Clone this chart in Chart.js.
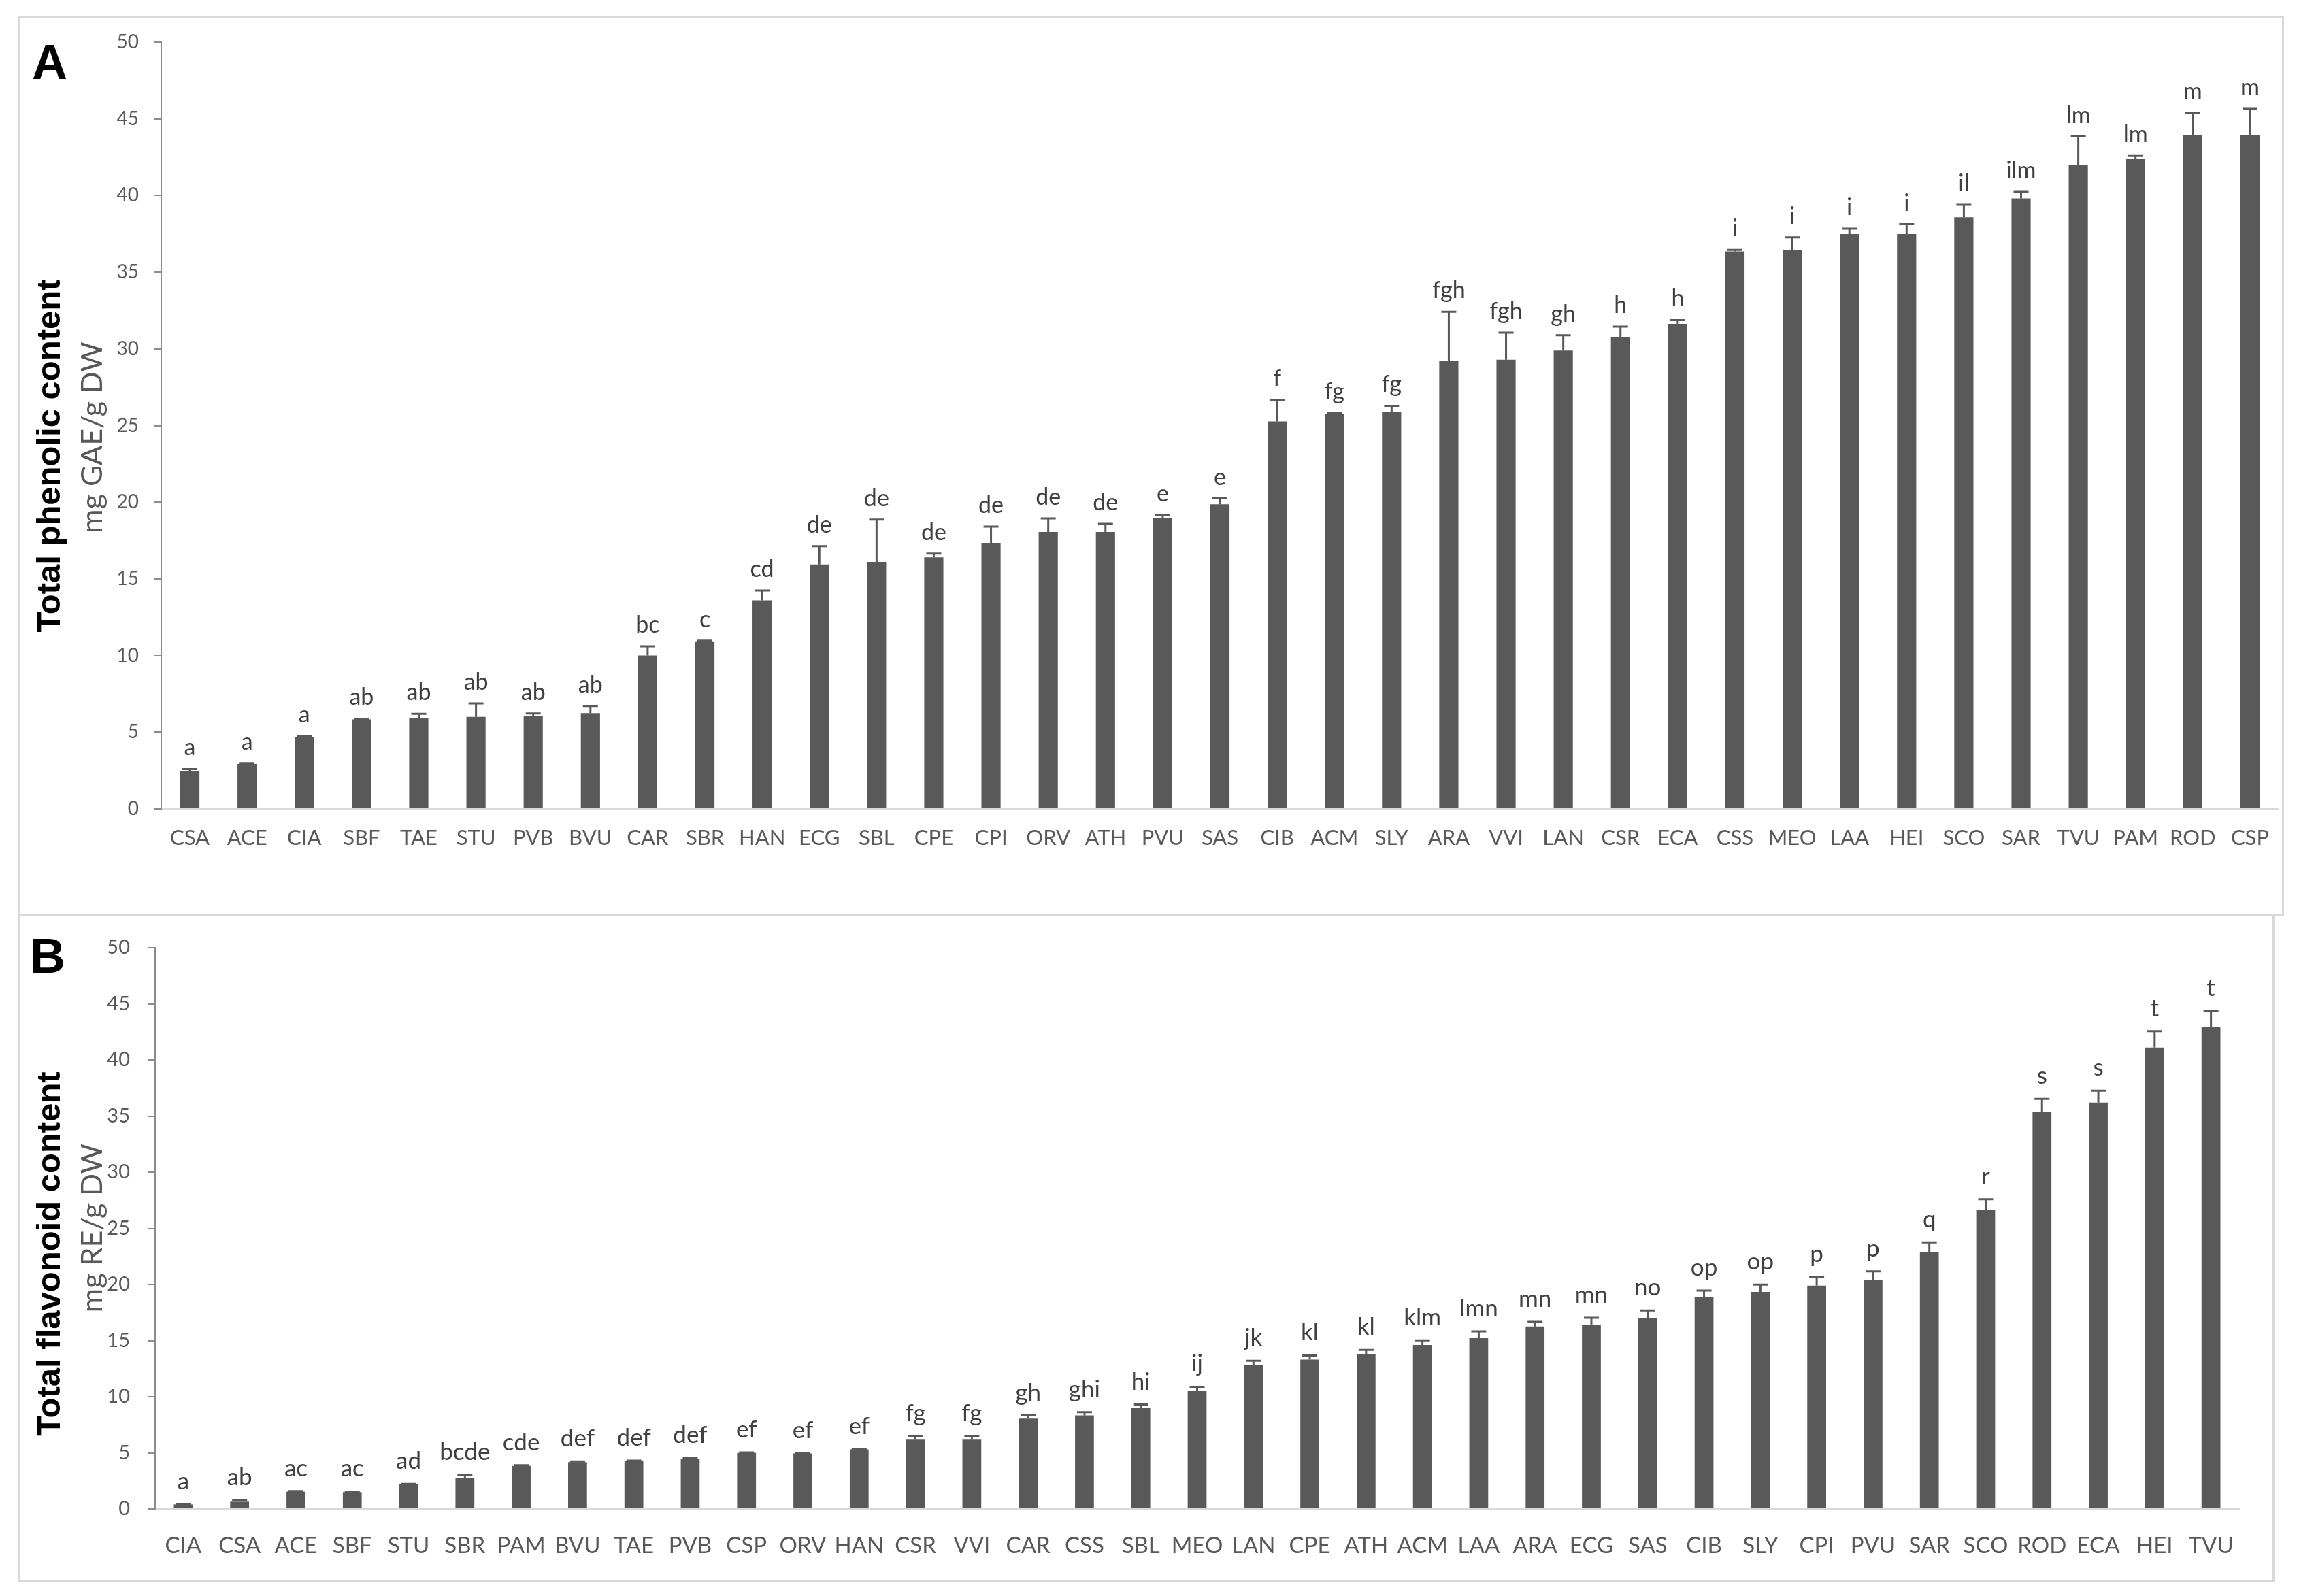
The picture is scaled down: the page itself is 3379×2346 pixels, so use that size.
<!DOCTYPE html>
<html><head><meta charset="utf-8">
<script src="https://cdn.jsdelivr.net/npm/chart.js@4.4.0/dist/chart.umd.min.js"></script>
<style>
html,body{margin:0;padding:0;background:#fff;}
body{width:3379px;height:2346px;position:relative;overflow:hidden;}
.box{position:absolute;border:3px solid #d9d9d9;box-sizing:border-box;}
#wrapA{position:absolute;left:0;top:0;width:3379px;height:1345px;}
#wrapB{position:absolute;left:0;top:1345px;width:3379px;height:1001px;}
</style></head>
<body>
<div class="box" style="left:27px;top:24px;width:3330px;height:1323px"></div>
<div class="box" style="left:27px;top:1344px;width:3316px;height:981px"></div>
<div id="wrapA"><canvas id="cA" width="3379" height="1345"></canvas></div>
<div id="wrapB"><canvas id="cB" width="3379" height="1001"></canvas></div>
<script>
// Panel A: total phenolic content (mg GAE/g DW)
const catsA = ["CSA","ACE","CIA","SBF","TAE","STU","PVB","BVU","CAR","SBR","HAN","ECG","SBL","CPE","CPI","ORV","ATH","PVU","SAS","CIB","ACM","SLY","ARA","VVI","LAN","CSR","ECA","CSS","MEO","LAA","HEI","SCO","SAR","TVU","PAM","ROD","CSP"];
const valsA = [2.45,2.93,4.70,5.83,5.90,6.00,6.04,6.25,10.0,10.92,13.6,15.94,16.11,16.40,17.35,18.06,18.06,18.98,19.86,25.27,25.76,25.87,29.22,29.29,29.89,30.78,31.63,36.36,36.43,37.49,37.49,38.59,39.82,42.01,42.37,43.92,43.92];
const errA  = [0.15,0.05,0.05,0.05,0.30,0.88,0.18,0.46,0.60,0.05,0.64,1.20,2.76,0.25,1.06,0.88,0.53,0.18,0.39,1.41,0.07,0.42,3.20,1.77,1.00,0.67,0.25,0.10,0.85,0.35,0.64,0.81,0.42,1.84,0.21,1.48,1.73];
const lettersA = ["a","a","a","ab","ab","ab","ab","ab","bc","c","cd","de","de","de","de","de","de","e","e","f","fg","fg","fgh","fgh","gh","h","h","i","i","i","i","il","ilm","lm","lm","m","m"];

// Panel B: total flavonoid content (mg RE/g DW)
const catsB = ["CIA","CSA","ACE","SBF","STU","SBR","PAM","BVU","TAE","PVB","CSP","ORV","HAN","CSR","VVI","CAR","CSS","SBL","MEO","LAN","CPE","ATH","ACM","LAA","ARA","ECG","SAS","CIB","SLY","CPI","PVU","SAR","SCO","ROD","ECA","HEI","TVU"];
const valsB = [0.40,0.65,1.54,1.50,2.18,2.75,3.84,4.17,4.25,4.49,4.98,4.94,5.30,6.23,6.23,8.05,8.33,9.02,10.52,12.82,13.31,13.79,14.60,15.21,16.26,16.42,17.03,18.85,19.34,19.90,20.39,22.86,26.62,35.36,36.20,41.10,42.92];
const errB  = [0.03,0.12,0.05,0.05,0.05,0.28,0.05,0.05,0.05,0.05,0.05,0.05,0.05,0.28,0.28,0.28,0.29,0.28,0.36,0.37,0.36,0.37,0.41,0.61,0.41,0.61,0.65,0.61,0.64,0.77,0.77,0.89,0.97,1.17,1.06,1.46,1.42];
const lettersB = ["a","ab","ac","ac","ad","bcde","cde","def","def","def","ef","ef","ef","fg","fg","gh","ghi","hi","ij","jk","kl","kl","klm","lmn","mn","mn","no","op","op","p","p","q","r","s","s","t","t"];

const yMin = 0, yMax = 50, yStep = 5;

const BAR = '#595959';

const errorBarPlugin = {
  id: 'errbars',
  afterDatasetsDraw(chart, args, opts) {
    const ctx = chart.ctx;
    const meta = chart.getDatasetMeta(0);
    const ys = chart.scales.y;
    const vals = chart.data.datasets[0].data;
    ctx.save();
    meta.data.forEach((bar, i) => {
      const v = vals[i], e = opts.errors[i];
      const yTop = ys.getPixelForValue(v + e);
      const yBar = ys.getPixelForValue(v);
      ctx.strokeStyle = BAR; ctx.lineWidth = 3;
      ctx.beginPath();
      ctx.moveTo(bar.x, yBar); ctx.lineTo(bar.x, yTop);
      ctx.moveTo(bar.x - opts.cap / 2, yTop); ctx.lineTo(bar.x + opts.cap / 2, yTop);
      ctx.stroke();
      ctx.fillStyle = '#404040';
      ctx.font = opts.font;
      ctx.textAlign = 'center';
      ctx.textBaseline = 'alphabetic';
      ctx.fillText(opts.letters[i], bar.x, yTop - opts.gap);
    });
    ctx.restore();
  }
};

const titlesPlugin = {
  id: 'titles',
  afterDraw(chart, args, o) {
    const ctx = chart.ctx;
    ctx.save();
    ctx.fillStyle = '#000';
    ctx.font = 'bold 72px "Liberation Sans", Arial, sans-serif';
    ctx.textAlign = 'left'; ctx.textBaseline = 'alphabetic';
    ctx.fillText(o.panel, o.px, o.py);
    ctx.save();
    ctx.translate(o.t1x, o.t1y); ctx.rotate(-Math.PI / 2);
    ctx.font = 'bold 49px "Liberation Sans", Arial, sans-serif';
    ctx.textAlign = 'center';
    ctx.fillText(o.t1, 0, 0);
    ctx.restore();
    ctx.save();
    ctx.translate(o.t2x, o.t2y); ctx.rotate(-Math.PI / 2);
    ctx.font = '43px Lato, "Open Sans", sans-serif';
    ctx.fillStyle = '#595959';
    ctx.textAlign = 'center';
    ctx.fillText(o.t2, 0, 0);
    ctx.restore();
    ctx.restore();
  }
};

function makeChart(id, cats, vals, errs, letters, cfg) {
  return new Chart(document.getElementById(id), {
    type: 'bar',
    data: { labels: cats, datasets: [{ data: vals, backgroundColor: BAR, categoryPercentage: 1, barPercentage: 0.335 }] },
    plugins: [errorBarPlugin, titlesPlugin],
    options: {
      responsive: false, animation: false, devicePixelRatio: 1,
      layout: { padding: cfg.pad },
      plugins: {
        legend: { display: false }, tooltip: { enabled: false },
        errbars: { errors: errs, letters: letters, cap: 22, gap: cfg.gap, font: cfg.annFont },
        titles: cfg.titles
      },
      scales: {
        x: {
          grid: { display: false, drawTicks: false },
          border: { display: true, color: '#d9d9d9', width: 3 },
          ticks: { color: '#595959', font: { family: 'Lato', size: cfg.xSize }, padding: cfg.xPad, maxRotation: 0, autoSkip: false },
          afterFit(s) { s.height = cfg.xH; }
        },
        y: {
          min: yMin, max: yMax,
          ticks: { stepSize: yStep, color: '#595959', font: { family: 'Lato', size: cfg.ySize }, padding: cfg.yPad },
          grid: { drawOnChartArea: false, drawTicks: true, tickLength: 11, color: '#8c8c8c', lineWidth: 2 },
          border: { display: true, color: '#8c8c8c', width: 2 },
          afterFit(s) { s.width = cfg.yW; }
        }
      }
    }
  });
}

makeChart('cA', catsA, valsA, errA, lettersA, {
  pad: { left: 0, top: 62, right: 30, bottom: 56 },
  xH: 100, yW: 237, xSize: 31, ySize: 28, xPad: 24, yPad: 22, gap: 20,
  annFont: '34px Lato, sans-serif',
  titles: { panel: 'A', px: 47, py: 116, t1: 'Total phenolic content', t1x: 88, t1y: 670, t2: 'mg GAE/g DW', t2x: 150, t2y: 643 }
});

makeChart('cB', catsB, valsB, errB, lettersB, {
  pad: { left: 0, top: 48, right: 88, bottom: 48 },
  xH: 80, yW: 228, xSize: 33, ySize: 29, xPad: 35, yPad: 26, gap: 22,
  annFont: '35px Lato, sans-serif',
  titles: { panel: 'B', px: 44, py: 85, t1: 'Total flavonoid content', t1x: 88, t1y: 498, t2: 'mg RE/g DW', t2x: 150, t2y: 460 }
});
</script>
</body></html>
